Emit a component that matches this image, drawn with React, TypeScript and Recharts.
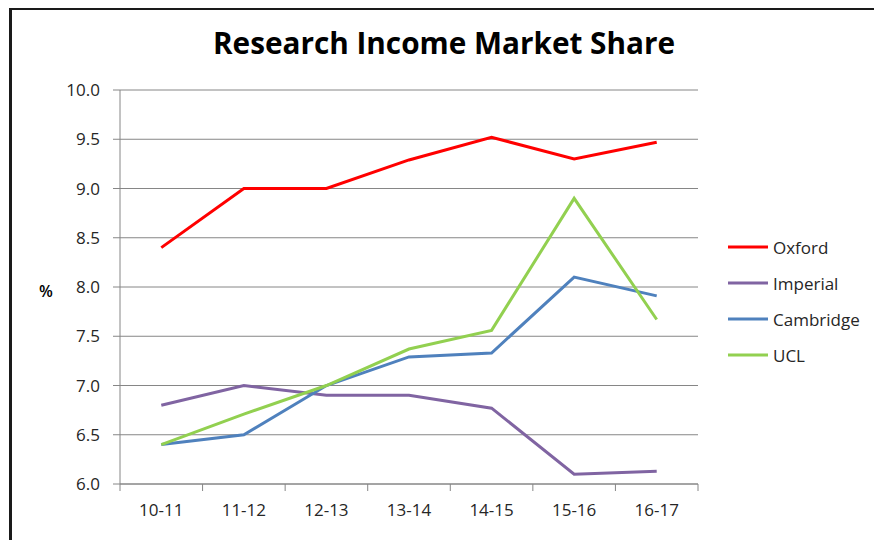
import React from 'react';
import { LineChart, Line, XAxis, YAxis, CartesianGrid, Legend } from 'recharts';

const categories = ['10-11', '11-12', '12-13', '13-14', '14-15', '15-16', '16-17'];
const oxford = [8.4, 9.0, 9.0, 9.29, 9.52, 9.3, 9.47];
const imperial = [6.8, 7.0, 6.9, 6.9, 6.77, 6.1, 6.13];
const cambridge = [6.4, 6.5, 7.0, 7.29, 7.33, 8.1, 7.91];
const ucl = [6.4, 6.71, 7.0, 7.37, 7.56, 8.9, 7.67];
const yTicks = [6, 6.5, 7, 7.5, 8, 8.5, 9, 9.5, 10];
const seriesNames = ['Oxford', 'Imperial', 'Cambridge', 'UCL'];
const seriesColors = ['#FF0000', '#8064A2', '#4F81BD', '#92D050'];
const seriesValues = [oxford, imperial, cambridge, ucl];

const data = categories.map((c, i) => {
  const row: any = { cat: c };
  seriesNames.forEach((n, k) => (row[n] = seriesValues[k][i]));
  return row;
});

const W = 874;
const H = 540;
const M = { top: 90, right: 176, bottom: 26, left: 0 };
const Y_W = 120;
const PLOT_W = W - M.left - M.right - Y_W;
const BAND = PLOT_W / categories.length;
const FONT = '"Open Sans", sans-serif';
const GRID = '#868686';
const TEXT = '#262626';

const XTick = (props: any) => {
  const { x, y, payload, index } = props;
  const last = index === categories.length - 1;
  return (
    <g>
      <line x1={x - BAND / 2} x2={x - BAND / 2} y1={y} y2={y + 7} stroke={GRID} strokeWidth={1} />
      {last && <line x1={x + BAND / 2} x2={x + BAND / 2} y1={y} y2={y + 7} stroke={GRID} strokeWidth={1} />}
      <text x={x} y={y + 32} textAnchor="middle" fontFamily={FONT} fontSize={17} fill={TEXT}>
        {payload.value}
      </text>
    </g>
  );
};

const LegendContent = () => (
  <div style={{ fontFamily: FONT, fontSize: 17, color: TEXT }}>
    {seriesNames.map((n, i) => (
      <div key={n} style={{ display: 'flex', alignItems: 'center', height: 36 }}>
        <svg width={40} height={6} style={{ marginRight: 5 }}>
          <line x1={0} x2={40} y1={3} y2={3} stroke={seriesColors[i]} strokeWidth={3} />
        </svg>
        <span>{n}</span>
      </div>
    ))}
  </div>
);

export default function App() {
  return (
    <div style={{ position: 'absolute', left: 0, top: 0, width: W, height: H, overflow: 'hidden', background: '#fff' }}>
      <div
        style={{
          position: 'absolute',
          left: 9,
          top: 8,
          width: 1000,
          height: 1000,
          borderLeft: '3px solid #1a1a1a',
          borderTop: '2.5px solid #1a1a1a',
        }}
      />
      <svg width={W} height={70} style={{ position: 'absolute', left: 0, top: 0 }}>
        <text
          x={213}
          y={54}
          textLength={462}
          lengthAdjust="spacingAndGlyphs"
          fontFamily={FONT}
          fontWeight={700}
          fontSize={31}
          fill="#000"
        >
          Research Income Market Share
        </text>
      </svg>
      <div style={{ position: 'absolute', left: 0, top: 0 }}>
        <LineChart width={W} height={H} data={data} margin={M}>
          <CartesianGrid vertical={false} stroke={GRID} strokeWidth={1} />
          <XAxis
            dataKey="cat"
            height={30}
            padding={{ left: BAND / 2, right: BAND / 2 }}
            tickSize={0}
            tickMargin={0}
            tickLine={false}
            axisLine={{ stroke: GRID }}
            tick={<XTick />}
            interval={0}
          />
          <YAxis
            width={Y_W}
            domain={[6, 10]}
            ticks={yTicks}
            interval={0}
            tickFormatter={(v: number) => v.toFixed(1)}
            tickSize={7}
            tickMargin={13}
            axisLine={{ stroke: GRID }}
            tickLine={{ stroke: GRID }}
            tick={{ fontFamily: FONT, fontSize: 17, fill: TEXT }}
            label={{ value: '%', position: 'insideLeft', offset: 39, dy: 4, fontFamily: FONT, fontSize: 16, fontWeight: 600, fill: '#000' }}
          />
          <Legend
            layout="horizontal"
            verticalAlign="middle"
            align="center"
            wrapperStyle={{ left: 728, top: 229, width: 140 }}
            content={<LegendContent />}
          />
          {seriesNames.map((n, i) => (
            <Line
              key={n}
              dataKey={n}
              stroke={seriesColors[i]}
              strokeWidth={3}
              dot={false}
              activeDot={false}
              isAnimationActive={false}
            />
          ))}
        </LineChart>
      </div>
    </div>
  );
}
